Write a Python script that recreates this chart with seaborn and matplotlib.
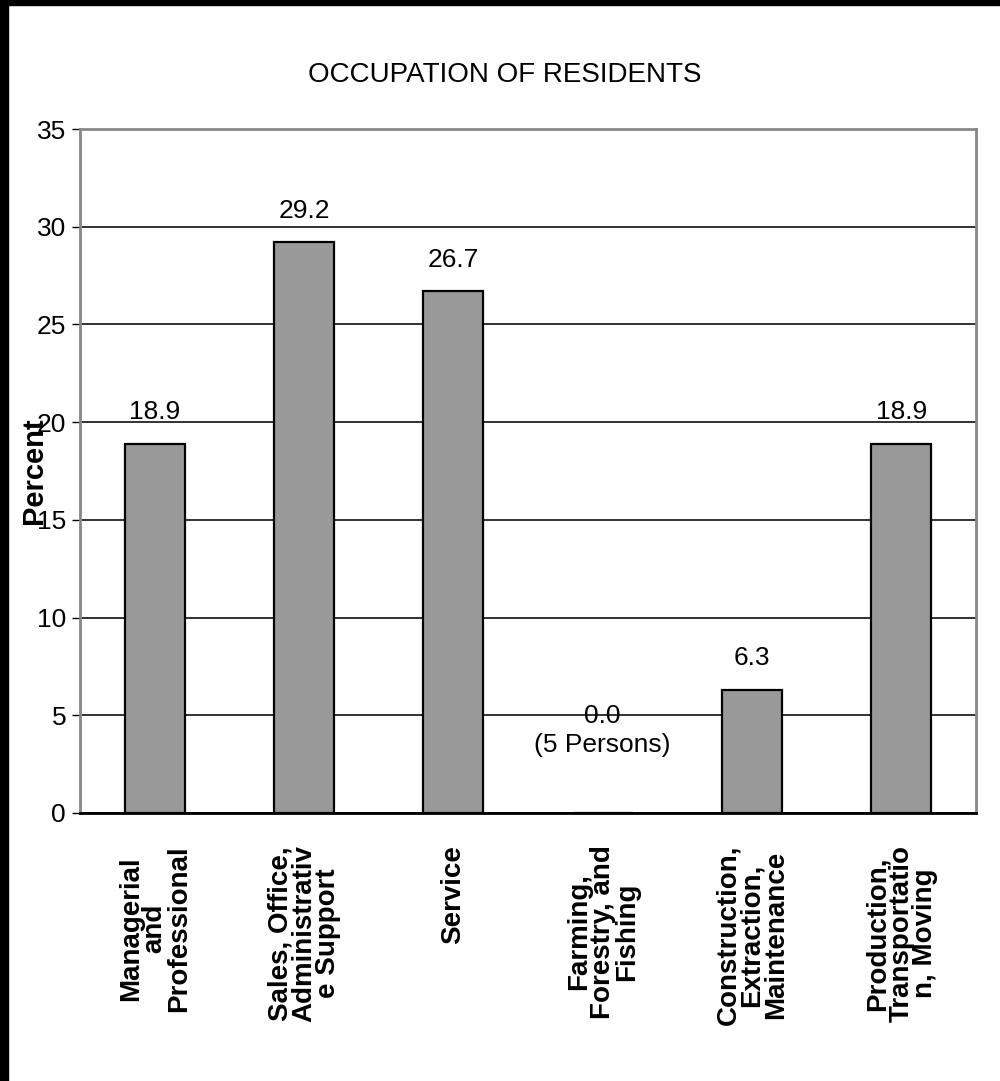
import matplotlib
matplotlib.use("Agg")
import matplotlib.pyplot as plt
import pandas as pd
import seaborn as sns
from matplotlib.patches import Rectangle

CATEGORIES = [
    "Managerial\nand\nProfessional",
    "Sales, Office,\nAdministrativ\ne Support",
    "Service",
    "Farming,\nForestry, and\nFishing",
    "Construction,\nExtraction,\nMaintenance",
    "Production,\nTransportatio\nn, Moving",
]
PERCENT = [18.9, 29.2, 26.7, 0.0, 6.3, 18.9]
VALUE_LABELS = ["18.9", "29.2", "26.7", "0.0\n(5 Persons)", "6.3", "18.9"]
Y_TICKS = [0, 5, 10, 15, 20, 25, 30, 35]

FONT = ["Liberation Sans", "DejaVu Sans"]

sns.set_style("white")
plt.rcParams["font.family"] = FONT
plt.rcParams["text.color"] = "black"
plt.rcParams["xtick.color"] = "black"
plt.rcParams["ytick.color"] = "black"
plt.rcParams["axes.labelcolor"] = "black"

df = pd.DataFrame({"category": CATEGORIES, "percent": PERCENT})

fig = plt.figure(figsize=(10, 10.81), dpi=100)
ax = fig.add_axes([0.08, 1 - 813 / 1081, 0.896, (813 - 129) / 1081])

sns.barplot(data=df, x="category", y="percent", color="#999999",
            saturation=1, width=0.4, edgecolor="black", linewidth=1.6,
            ax=ax, zorder=3)
for p in ax.patches:
    p.set_clip_on(False)

ax.set_ylim(0, 35)
ax.set_xlim(-0.5, len(CATEGORIES) - 0.5)
ax.set_yticks(Y_TICKS)
ax.set_yticklabels([str(t) for t in Y_TICKS], fontsize=19)
ax.yaxis.grid(True, color="#222222", linewidth=1.3, zorder=0)
ax.set_axisbelow(True)

# ticks between categories, labels at centres
ax.set_xticks([i - 0.5 for i in range(len(CATEGORIES) + 1)], minor=True)
ax.tick_params(axis="x", which="minor", length=8, width=1, color="black",
               direction="out")
ax.tick_params(axis="x", which="major", length=0, pad=23)
ax.tick_params(axis="y", length=6, width=1, color="black", direction="out",
               pad=4, left=True)
ax.set_xticklabels(CATEGORIES, rotation=90, fontsize=20, fontweight="bold",
                   va="top", ha="center", multialignment="center",
                   linespacing=0.9)

for side in ["top", "right", "left"]:
    ax.spines[side].set_color("#888888")
    ax.spines[side].set_linewidth(2)
ax.spines["bottom"].set_color("black")
ax.spines["bottom"].set_linewidth(2)

for i, (v, lab) in enumerate(zip(PERCENT, VALUE_LABELS)):
    off = 40 if v == 0 else 14
    ax.annotate(lab, (i, v), xytext=(0, off), textcoords="offset points",
                ha="center", va="bottom", fontsize=19, linespacing=1.3,
                zorder=4)

ax.set_xlabel("")
ax.set_ylabel("Percent", fontsize=21, fontweight="bold", labelpad=-8)

fig.suptitle("OCCUPATION OF RESIDENTS", fontsize=20, x=0.505, y=0.931,
             va="center")

# black frame strips at the top and left edge
fig.patches.append(Rectangle((0, 1 - 5 / 1081), 1, 5 / 1081,
                             transform=fig.transFigure, color="black"))
fig.patches.append(Rectangle((0, 0), 8 / 1000, 1,
                             transform=fig.transFigure, color="black"))

fig.savefig("out.png", dpi=100, facecolor="white")
